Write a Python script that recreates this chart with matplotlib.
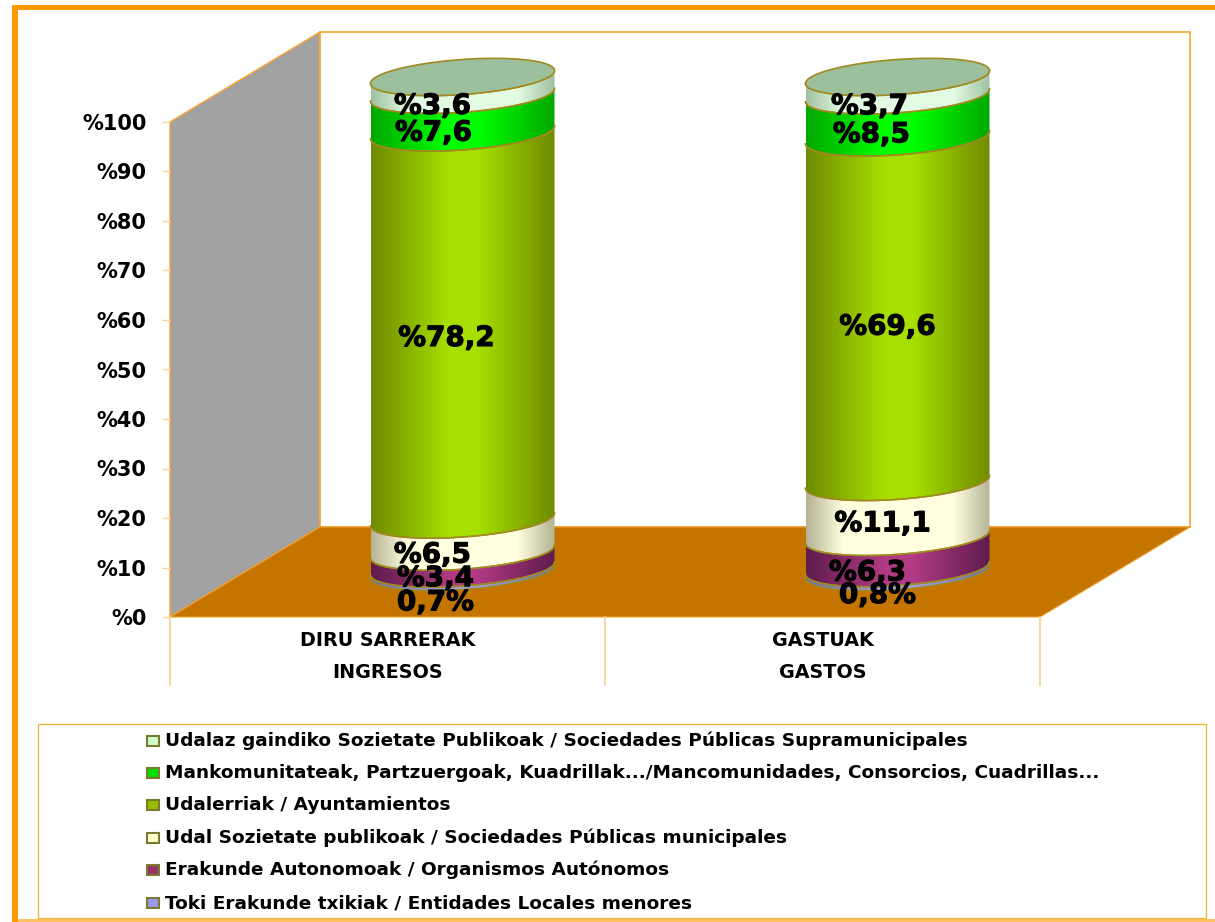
import numpy as np
import matplotlib
matplotlib.use("Agg")
import matplotlib.pyplot as plt
import matplotlib.patheffects as pe
from matplotlib.patches import Polygon, Rectangle
from matplotlib.colors import LinearSegmentedColormap

categories = [("DIRU SARRERAK", "INGRESOS"), ("GASTUAK", "GASTOS")]
series_names = [
    "Toki Erakunde txikiak / Entidades Locales menores",
    "Erakunde Autonomoak / Organismos Autónomos",
    "Udal Sozietate publikoak / Sociedades Públicas municipales",
    "Udalerriak / Ayuntamientos",
    "Mankomunitateak, Partzuergoak, Kuadrillak.../Mancomunidades, Consorcios, Cuadrillas...",
    "Udalaz gaindiko Sozietate Publikoak / Sociedades Públicas Supramunicipales",
]
ingresos = [0.7, 3.4, 6.5, 78.2, 7.6, 3.6]
gastos = [0.8, 6.3, 11.1, 69.6, 8.5, 3.7]
label_ingresos = ["0,7%", "%3,4", "%6,5", "%78,2", "%7,6", "%3,6"]
label_gastos = ["0,8%", "%6,3", "%11,1", "%69,6", "%8,5", "%3,7"]
# label nudges in px (right, down) relative to the segment centre
nudge_ingresos = [(-27, 32), (-27, 18), (-30, 19), (-16, 12), (-29, 19), (-30, 20)]
nudge_gastos = [(-20, 25), (-30, 20), (-15, 14), (-10, 17), (-26, 18), (-28, 20)]
yticks = [0, 10, 20, 30, 40, 50, 60, 70, 80, 90, 100]
ytick_labels = ["%" + str(v) for v in yticks]

edge_dark = ["#6f6f9e", "#5e1c4c", "#b4b494", "#6f8a00", "#00a800", "#a0c0a0"]
centre = ["#a0a0e0", "#b03a84", "#ffffe0", "#a6e000", "#00ff00", "#e2fbe2"]
swatch = ["#9999ee", "#993366", "#ffffcc", "#99bb00", "#00e000", "#ccffcc"]
legend_y = [903, 870, 838, 805, 773, 741]

W, H = 1215, 922
FONT = "DejaVu Sans"
ORANGE = "#ff9900"
LINE = "#f0b840"

fig = plt.figure(figsize=(W / 100, H / 100), dpi=100, facecolor="white")

# full-figure overlay in pixel coordinates for frame and legend
bg = fig.add_axes([0, 0, 1, 1], zorder=0)
bg.set_xlim(0, W)
bg.set_ylim(H, 0)
bg.axis("off")
bg.add_patch(Rectangle((12, 5), W - 12, 5, fc=ORANGE, ec="none"))
bg.add_patch(Rectangle((12, 5), 6, H - 5, fc=ORANGE, ec="none"))
bg.add_patch(Rectangle((18, 919), W - 18, 3, fc="#ffc060", ec="none"))
bg.add_patch(Rectangle((38, 724), 1168, 194, fc="white", ec=LINE, lw=1))
for name, col, ty in zip(series_names, swatch, legend_y):
    bg.add_patch(Rectangle((147, ty - 5), 12, 10, fc=col, ec="#7a7a30", lw=1.5))
    bg.text(165, ty, name, fontsize=13.3, fontweight="bold", family=FONT, va="center", ha="left", color="black")

# plotting axes: the front plane of the 3-D box
L, R, T, B = 170, 1040, 122, 617
ax = fig.add_axes([L / W, 1 - B / H, (R - L) / W, (B - T) / H], zorder=1)
ax.patch.set_alpha(0)
ax.set_xlim(0, 2)
ax.set_ylim(0, 100)
for s in ax.spines.values():
    s.set_visible(False)
ax.set_xticks([])
ax.set_yticks(yticks, ytick_labels, fontsize=15, fontweight="bold", family=FONT)
ax.tick_params(axis="y", length=6, width=1, color="#fbd39a", pad=11)
sx = 2 / (R - L)
sy = 100 / (B - T)
depth_x, depth_y = 150 * sx, 90 * sy

WALL = "#fba42a"
# walls and floor
ax.add_patch(Polygon([(0, 0), (depth_x, depth_y), (depth_x, 100 + depth_y), (0, 100)], fc="#a2a2a2", ec=WALL, lw=1, clip_on=False, zorder=1))
ax.add_patch(Polygon([(depth_x, depth_y), (2 + depth_x, depth_y), (2 + depth_x, 100 + depth_y), (depth_x, 100 + depth_y)], fc="white", ec=WALL, lw=1.2, clip_on=False, zorder=1))
ax.add_patch(Polygon([(0, 0), (depth_x, depth_y), (2 + depth_x, depth_y), (2, 0)], fc="#c47500", ec="#f0a030", lw=0.8, clip_on=False, zorder=2))
# category dividers below the axis
for xv in (0, 1, 2):
    ax.plot([xv, xv], [0, -68 * sy], color="#f4d090", lw=1.2, clip_on=False, zorder=2)
for i, (a, b) in enumerate(categories):
    ax.text(i + 0.5, -24 * sy, a, ha="center", va="center", fontsize=13.8, fontweight="bold", family=FONT)
    ax.text(i + 0.5, -56 * sy, b, ha="center", va="center", fontsize=13.8, fontweight="bold", family=FONT)

A, Bm, TILT = 92 * sx, 17.5 * sy, 0.07 * (sy / sx)
t_front = np.linspace(np.pi, 2 * np.pi, 80)


def ring(cx, cy, t):
    px = A * np.cos(t)
    return cx + px, cy + Bm * np.sin(t) + TILT * px


def cylinder(i, values, labels, nudges):
    cx = i + 0.5 + depth_x / 2
    base = depth_y / 2
    cum = 0.0
    for k, v in enumerate(values):
        y0, y1 = base + cum, base + cum + v
        xb, yb = ring(cx, y0, t_front)
        xt, yt = ring(cx, y1, t_front)
        verts = np.vstack([np.c_[xb, yb], np.c_[xt, yt][::-1]])
        poly = Polygon(verts, closed=True, fc="none", ec="none", clip_on=False)
        ax.add_patch(poly)
        cm = LinearSegmentedColormap.from_list(
            "c", [(0, edge_dark[k]), (0.2, centre[k]), (0.8, centre[k]), (1, edge_dark[k])]
            if k in (2, 5) else
            [(0, edge_dark[k]), (0.42, centre[k]), (0.58, centre[k]), (1, edge_dark[k])]
        )
        grad = np.linspace(0, 1, 256)[None, :]
        im = ax.imshow(grad, cmap=cm, aspect="auto", extent=(cx - A, cx + A, yb.min() - 5, yt.max() + 5), zorder=3)
        im.set_clip_box(fig.bbox)
        im.set_clip_path(poly)
        ax.plot(xb, yb, color="#a08a20", lw=1.1, zorder=4, clip_on=False)
        ax.plot(xt, yt, color="#a08a20", lw=1.1, zorder=4, clip_on=False)
        dx, dy = nudges[k]
        t_ = ax.text(cx + dx * sx, y0 + v / 2 - dy * sy, labels[k], ha="center", va="center", fontsize=20, fontweight="bold", family=FONT, zorder=6, color="black", clip_on=False)
        t_.set_path_effects([pe.withStroke(linewidth=0.8, foreground="black")])
        cum += v
    t = np.linspace(0, 2 * np.pi, 160)
    xe, ye = ring(cx, base + cum, t)
    ax.add_patch(Polygon(np.c_[xe, ye], fc="#9cbf9c", ec="#a08a20", lw=1.2, zorder=5, clip_on=False))


cylinder(0, ingresos, label_ingresos, nudge_ingresos)
cylinder(1, gastos, label_gastos, nudge_gastos)
ax.set_xlim(0, 2)
ax.set_ylim(0, 100)

fig.savefig("out.png", dpi=100)
